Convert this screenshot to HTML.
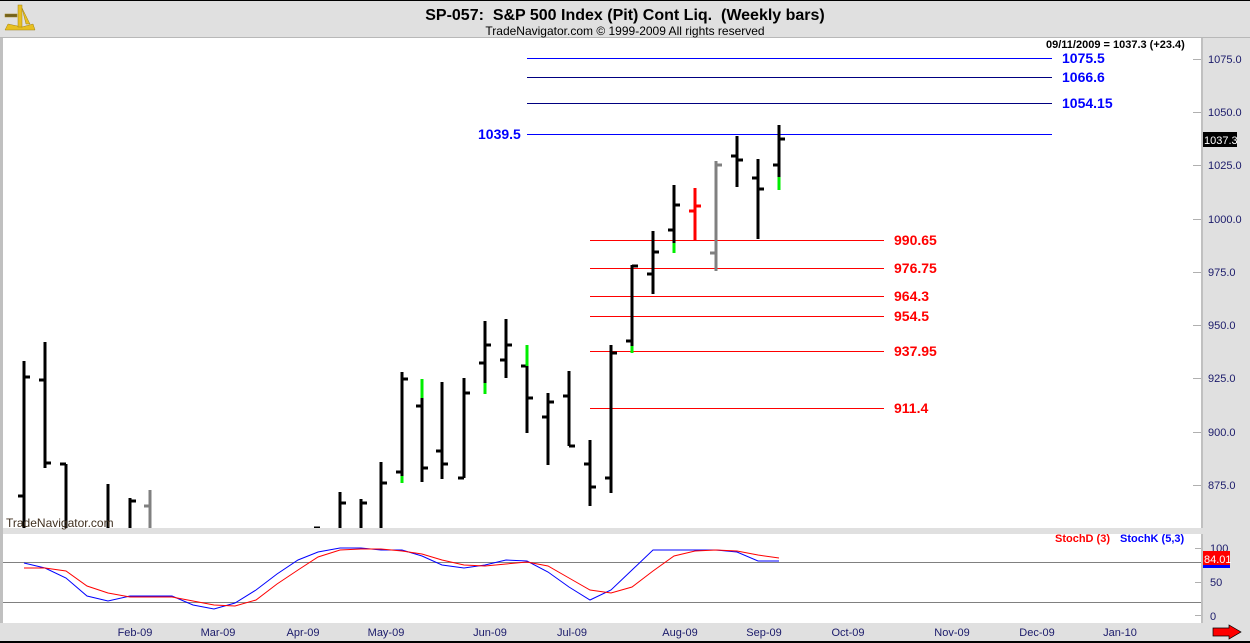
<!DOCTYPE html>
<html><head><meta charset="utf-8"><style>
html,body{margin:0;padding:0;background:#fff}
svg{display:block;font-family:"Liberation Sans",sans-serif}
</style></head><body>
<svg width="1250" height="643" viewBox="0 0 1250 643" xmlns="http://www.w3.org/2000/svg">
<rect x="0" y="0" width="1250" height="643" fill="#e0e0e0"/>
<rect x="0" y="0" width="1250" height="1" fill="#000"/>
<rect x="0" y="641" width="1250" height="2" fill="#000"/>
<rect x="3" y="38" width="1199" height="490" fill="#fff"/>
<rect x="0" y="37" width="1250" height="1" fill="#b8b8b8"/>
<rect x="0" y="38" width="3" height="585" fill="#c0c0c0"/>
<rect x="3" y="534" width="1199" height="89" fill="#fff"/>
<rect x="1201" y="38" width="2" height="490" fill="#c0c0c0"/>
<rect x="1201" y="534" width="2" height="89" fill="#c0c0c0"/>
<g fill="#e8c020" stroke="#a08010" stroke-width="0.5">
<path d="M5 30 L35 30 L33 24 L22 27 L8 24 Z"/>
<rect x="18" y="5" width="4" height="22"/>
<rect x="5" y="14" width="12" height="3" fill="#706020"/>
<path d="M22 8 L30 24 L26 24 Z"/>
</g>
<text x="625" y="20" font-size="16" font-weight="bold" text-anchor="middle">SP-057:&#160; S&amp;P 500 Index (Pit) Cont Liq.&#160; (Weekly bars)</text>
<text x="625" y="35" font-size="12" text-anchor="middle">TradeNavigator.com © 1999-2009 All rights reserved</text>
<text x="1046" y="48" font-size="11" font-weight="bold">09/11/2009 = 1037.3 (+23.4)</text>
<g stroke="#b0b0b0" stroke-width="1">
<line x1="1193" y1="59.5" x2="1201" y2="59.5"/><line x1="1193" y1="112.5" x2="1201" y2="112.5"/><line x1="1193" y1="165.5" x2="1201" y2="165.5"/><line x1="1193" y1="219.5" x2="1201" y2="219.5"/><line x1="1193" y1="272.5" x2="1201" y2="272.5"/><line x1="1193" y1="325.5" x2="1201" y2="325.5"/><line x1="1193" y1="378.5" x2="1201" y2="378.5"/><line x1="1193" y1="432.5" x2="1201" y2="432.5"/><line x1="1193" y1="485.5" x2="1201" y2="485.5"/>
<line x1="1195" y1="548.5" x2="1201" y2="548.5"/><line x1="1195" y1="582.5" x2="1201" y2="582.5"/><line x1="1195" y1="615.5" x2="1201" y2="615.5"/>
</g>
<g font-size="11" fill="#1a1a6a">
<text x="1208" y="63">1075.0</text><text x="1208" y="116">1050.0</text><text x="1208" y="169">1025.0</text><text x="1208" y="223">1000.0</text><text x="1208" y="276">975.0</text><text x="1208" y="329">950.0</text><text x="1208" y="382">925.0</text><text x="1208" y="436">900.0</text><text x="1208" y="489">875.0</text>
<text x="1210" y="552">100</text><text x="1210" y="586">50</text><text x="1210" y="620">0</text>
</g>
<rect x="1203" y="132" width="34" height="15" fill="#000"/>
<text x="1204" y="144" font-size="11" fill="#fff">1037.3</text>
<rect x="1203" y="551" width="27" height="14" fill="#ff0000"/>
<rect x="1203" y="565" width="27" height="3" fill="#0000ff"/>
<text x="1204" y="563" font-size="11" fill="#fff">84.01</text>
<g stroke="#0000ff" stroke-width="1">
<line x1="527" y1="58.5" x2="1052" y2="58.5"/><line x1="527" y1="77.5" x2="1052" y2="77.5" stroke="#000080"/><line x1="527" y1="103.5" x2="1052" y2="103.5" stroke="#000080"/><line x1="527" y1="134.5" x2="1052" y2="134.5"/>
</g>
<g font-size="14" font-weight="bold" fill="#0000ff">
<text x="1062" y="63">1075.5</text><text x="1062" y="82">1066.6</text><text x="1062" y="108">1054.15</text><text x="478" y="139">1039.5</text>
</g>
<g stroke="#ff0000" stroke-width="1">
<line x1="590" y1="240.5" x2="884" y2="240.5"/><line x1="590" y1="268.5" x2="884" y2="268.5"/><line x1="590" y1="296.5" x2="884" y2="296.5"/><line x1="590" y1="316.5" x2="884" y2="316.5"/><line x1="590" y1="351.5" x2="884" y2="351.5"/><line x1="590" y1="408.5" x2="884" y2="408.5"/>
</g>
<g font-size="14" font-weight="bold" fill="#ff0000">
<text x="894" y="245">990.65</text><text x="894" y="273">976.75</text><text x="894" y="301">964.3</text><text x="894" y="321">954.5</text><text x="894" y="356">937.95</text><text x="894" y="413">911.4</text>
</g>
<svg x="0" y="0" width="1202" height="528" overflow="hidden">
<g stroke-width="3" fill="none">
<g stroke="#000">
<path d="M24 361V528M18 496H24M24 377H30"/>
<path d="M45 342V468M39 380H45M45 463H51"/>
<path d="M66 464V528M60 464H66"/>
<path d="M108 484V528"/>
<path d="M130 498V528M130 501H136"/>
<path d="M318 528V530M314 528H320"/>
<path d="M340 492V528M340 503H346"/>
<path d="M361 499V528M361 503H367"/>
<path d="M381 462V528M381 483H387"/>
<path d="M402 372V476M396 472H402M402 379H408"/>
<path d="M422 398V482M416 406H422M422 468H428"/>
<path d="M442 382V479M436 451H442M442 464H448"/>
<path d="M464 378V478M458 478H464M464 393H470"/>
<path d="M485 321V383M479 363H485M485 345H491"/>
<path d="M506 319V378M500 360H506M506 345H512"/>
<path d="M527 366V433M521 366H527M527 398H533"/>
<path d="M548 393V465M542 417H548M548 402H554"/>
<path d="M569 371V446M563 396H569M569 446H575"/>
<path d="M590 440V506M584 464H590M590 487H596"/>
<path d="M611 345V493M605 478H611M611 353H617"/>
<path d="M632 265V346M626 341H632M632 266H638"/>
<path d="M653 231V294M647 274H653M653 252H659"/>
<path d="M674 185V243M668 230H674M674 205H680"/>
<path d="M737 136V187M731 156H737M737 160H743"/>
<path d="M758 159V239M752 178H758M758 189H764"/>
<path d="M779 125V177M773 165H779M779 139H785"/>
</g>
<g stroke="#808080">
<path d="M150 490V528M144 506H150"/>
<path d="M716 161V271M710 253H716M716 165H722"/>
</g>
<g stroke="#ff0000"><path d="M695 188V241M689 211H695M695 206H701"/></g>
<g stroke="#00ee00">
<path d="M402 476V483"/><path d="M422 379V398"/><path d="M485 383V394"/><path d="M527 345V366"/><path d="M632 346V353"/><path d="M674 243V253"/><path d="M779 177V190"/>
</g>
</g>
</svg>
<text x="6" y="527" font-size="12" fill="#403020">TradeNavigator.com</text>
<line x1="3" y1="562.5" x2="1201" y2="562.5" stroke="#808080"/>
<line x1="3" y1="602.5" x2="1201" y2="602.5" stroke="#808080"/>
<polyline fill="none" stroke="#0000ff" stroke-width="1" points="24,563 45,568 66,578 87,596 108,601 130,596 150,596 172,596 193,605 214,609 235,603 256,590 277,574 298,560 318,552 340,548 361,548 381,550 402,550 422,556 442,565 464,568 485,565 506,560 527,561 548,572 569,587 590,600 611,590 632,570 653,550 674,550 695,550 716,550 737,552 758,561 779,561"/>
<polyline fill="none" stroke="#ff0000" stroke-width="1" points="24,568 45,568 66,571 87,586 108,593 130,597 150,597 172,597 193,601 214,605 235,606 256,600 277,584 298,570 318,557 340,550 361,549 381,549 402,551 422,554 442,560 464,565 485,566 506,564 527,562 548,566 569,578 590,590 611,593 632,587 653,571 674,556 695,551 716,550 737,551 758,555 779,558"/>
<text x="1055" y="542" font-size="11" font-weight="bold" fill="#ff0000">StochD (3)</text>
<text x="1120" y="542" font-size="11" font-weight="bold" fill="#0000ff">StochK (5,3)</text>
<g font-size="11" fill="#1a1a6a" text-anchor="middle">
<text x="135" y="636">Feb-09</text><text x="218" y="636">Mar-09</text><text x="303" y="636">Apr-09</text><text x="386" y="636">May-09</text><text x="490" y="636">Jun-09</text><text x="572" y="636">Jul-09</text><text x="680" y="636">Aug-09</text><text x="764" y="636">Sep-09</text><text x="848" y="636">Oct-09</text><text x="952" y="636">Nov-09</text><text x="1037" y="636">Dec-09</text><text x="1120" y="636">Jan-10</text>
</g>
<path d="M1213 628H1229V625L1241 632L1229 639V636H1213Z" fill="#ff0000" stroke="#000" stroke-width="0.7"/>
</svg>
</body></html>
